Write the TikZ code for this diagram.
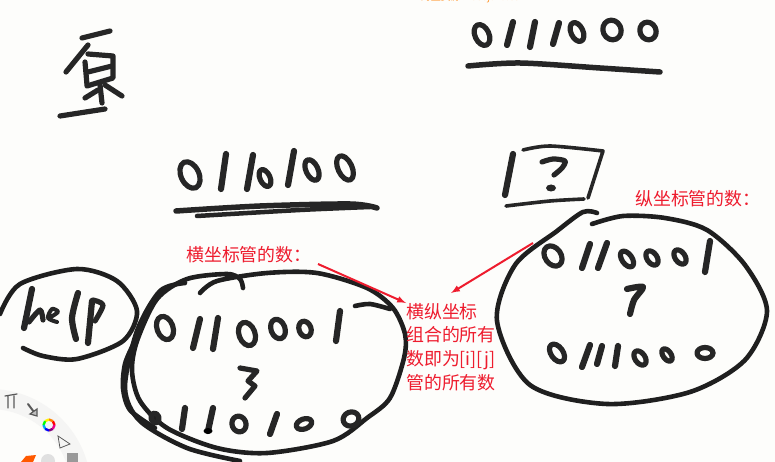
\documentclass[tikz,border=0pt]{standalone}
\usepackage{fontspec}
\newfontfamily\cjk{Noto Sans CJK SC}
\definecolor{paper}{HTML}{FDFDFB}
\definecolor{redink}{HTML}{EE1C2E}
\definecolor{ringgray}{HTML}{F5F5F4}
\begin{document}
\begin{tikzpicture}[x=1pt,y=-1pt]
  \tikzstyle{ink}=[draw=black!85,line width=5.2pt,line cap=round,line join=round]
  \tikzstyle{thin ink}=[ink,line width=3.6pt]
  \tikzstyle{bar ink}=[ink,line width=6.2pt]
  \tikzstyle{loop ink}=[draw=black!88,line width=4.6pt,line cap=round,line join=round]
  \tikzstyle{redtext}=[text=redink,font=\cjk\fontsize{17.9}{23.7}\selectfont,inner sep=0pt,anchor=north west,align=left]
  \tikzstyle{redarrow}=[draw=redink,line width=2pt,-latex]
  \tikzstyle{tool}=[draw=black!65,line width=1.2pt,line cap=round]

  \fill[paper] (0,0) rectangle (775,462);
  \useasboundingbox (0,0) rectangle (775,462);

  % the cropped line on top
  \node[text=orange!80,font=\cjk\fontsize{10}{10}\selectfont,inner sep=0pt] (mark) at (475,-2.5) {海量资源：666java.com};

  % top left sign
  \foreach \xa/\ya/\xb/\yb in {82/38/110/31, 88/45/66/72, 60/116/105/109, 85/62/87/85, 100/85/102/103, 98/90/85/98, 105/85/122/96}
    \draw[ink] (\xa,\ya) -- (\xb,\yb);
  \draw[ink] (88,54) -- (113,56) -- (113,78) -- (87,86);
  \draw[ink] (88,72) -- (112,66);

  % the two words on top
  \foreach \xa/\ya/\xb/\yb in {226/154/221/189, 253/155/247/189, 294/151/288/185,
    513/22/507/45, 535/22/530/47, 559/23/553/44}
    \draw[bar ink] (\xa,\ya) -- (\xb,\yb);
  \foreach \x/\y/\a/\b in {190/175/9/14, 265/178/5/9, 312/170/6/11, 345/168/7/13,
    482/35/7/11, 577/32/6/10, 612/30/9/10, 648/31/8/9}
    \draw[ink,rotate around={25:(\x,\y)}] (\x,\y) ellipse (\a pt and \b pt);
  \draw[ink,line width=5.5pt] plot[smooth] coordinates {(176,211) (260,206) (350,204) (377,208)};
  \draw[ink,line width=4.5pt] plot[smooth] coordinates {(197,216) (300,210) (370,207)};
  \draw[ink,line width=5.5pt] plot[smooth] coordinates {(468,66) (520,63) (600,68) (660,72)};

  % broken box
  \draw[bar ink] (513,154) -- (505,195);
  \draw[thin ink] plot[smooth] coordinates {(523,150) (550,146) (603,151)} -- (588,198);
  \draw[thin ink] plot[smooth] coordinates {(506,206) (550,201) (584,199)};
  \draw[ink] plot[smooth] coordinates {(542,162) (553,159) (565,161) (562,168) (554,175)};
  \fill[black!85] (551,188) ellipse (5pt and 3.5pt);

  % help
  \draw[loop ink] plot[smooth] coordinates {(0,314) (20,284) (77,269) (117,281) (137,311) (123,341) (77,359) (43,356) (23,348)};
  \foreach \xa/\ya/\xb/\yb in {32/289/24/328, 88/343/92/301}
    \draw[bar ink] (\xa,\ya) -- (\xb,\yb);
  \draw[ink] plot[smooth] coordinates {(29,322) (40,310) (43,320)};
  \draw[ink,line width=4pt] plot[smooth] coordinates {(49,318) (58,312) (52,309) (48,318) (57,322)};
  \draw[bar ink] plot[smooth] coordinates {(78,293) (72,318) (76,339)};
  \draw[ink] plot[smooth] coordinates {(93,300) (103,305) (95,321)};

  % left loop
  \draw[loop ink] plot[smooth] coordinates {(185,283) (160,291) (137,331) (125,388) (140,421) (187,448) (240,461)};
  \draw[loop ink] plot[smooth] coordinates {(200,293) (217,281) (267,273) (317,273) (367,288) (393,308) (405,334) (404,358) (390,398)
    (367,418) (333,441) (267,453) (217,448) (167,428) (140,401) (132,371) (137,341) (157,299) (187,279) (227,274) (240,279) (243,288)};
  \draw[loop ink] plot[smooth] coordinates {(355,306) (370,304) (390,309)};
  \draw[loop ink] plot[smooth] coordinates {(133,345) (125,364) (123,388) (130,410) (155,428)};
  \foreach \xa/\ya/\xb/\yb in {200/319/193/348, 218/318/213/349, 340/311/336/341,
    185/408/182/429, 213/408/208/431, 277/414/270/434}
    \draw[bar ink] (\xa,\ya) -- (\xb,\yb);
  \foreach \x/\y/\a/\b in {165/328/8/12, 247/334/8/12, 278/329/7/10, 305/329/6/8,
    155/418/4/5, 239/424/7/8, 304/424/8/5, 351/419/8/7}
    \draw[ink,rotate around={20:(\x,\y)}] (\x,\y) ellipse (\a pt and \b pt);
  \fill (208,431) ellipse (4.5pt and 3pt);
  \draw[ink] (240,368) -- (257,371) -- (248,381) -- (255,386) -- (245,398);

  % right loop
  \draw[loop ink] plot[smooth] coordinates {(592,224) (623,216) (665,218) (707,230) (745,265) (767,311) (745,360) (690,392) (607,404)
    (530,385) (497,321) (515,265) (557,231) (583,212) (597,213)};
  \foreach \xa/\ya/\xb/\yb in {590/244/582/268, 607/243/598/268, 710/241/705/272,
    590/345/582/367, 602/346/597/364, 618/346/615/366}
    \draw[bar ink] (\xa,\ya) -- (\xb,\yb);
  \foreach \x/\y/\a/\b in {553/256/8/11, 627/259/5/9, 652/258/5/8, 680/257/5/8,
    557/353/6/10, 640/358/5/8, 667/355/4/7}
    \draw[ink,rotate around={35:(\x,\y)}] (\x,\y) ellipse (\a pt and \b pt);
  \draw[ink] (705,353) ellipse (8pt and 5.5pt);
  \draw[bar ink] plot[smooth] coordinates {(627,289) (643,287) (634,300) (630,314)};

  % red notes
  \node[redtext] (xnote) at (186,246) {横坐标管的数：};
  \node[redtext] (ynote) at (635,190) {纵坐标管的数：};
  \node[redtext] (both) at (406,303) {横纵坐标\\组合的所有\\数即为[i][j]\\管的所有数};
  \coordinate (xfrom) at (318,264);
  \coordinate (yfrom) at (533,243);
  \coordinate (yto) at (451,293);
  \draw[redarrow] (xfrom) -- (both.north west);
  \draw[redarrow] (yfrom) -- (yto);

  % tool ring
  \fill[ringgray,even odd rule] (-10,490) circle (101pt) (-10,490) circle (81pt);
  \draw[tool] (8,396) -- (8,408) (14,396) -- (14,408) (5,396) -- (17,394);
  \draw[tool,line width=2pt] (28,404) -- (34,412);
  \draw[tool,fill=black!25] (30,414) -- (37,409) -- (37,416) -- cycle;
  \foreach \i/\c in {0/red,1/orange,2/yellow,3/green,4/cyan,5/blue,6/violet,7/magenta}
    \draw[\c,line width=2.4pt] (49,425) ++(\i*45:5.5pt) arc[start angle=\i*45,delta angle=46,radius=5.5pt];
  \draw[tool,line width=.8pt] (58,436) -- (70,444) -- (60,448) -- cycle;
  \fill[black!40] (67,453) rectangle (78,462);
  \fill[orange!70!red] (21,462) -- (26,456) -- (36,455) -- (33,462) -- cycle;
  \fill[black!12] (48,461) circle (7pt);
\end{tikzpicture}
\end{document}
